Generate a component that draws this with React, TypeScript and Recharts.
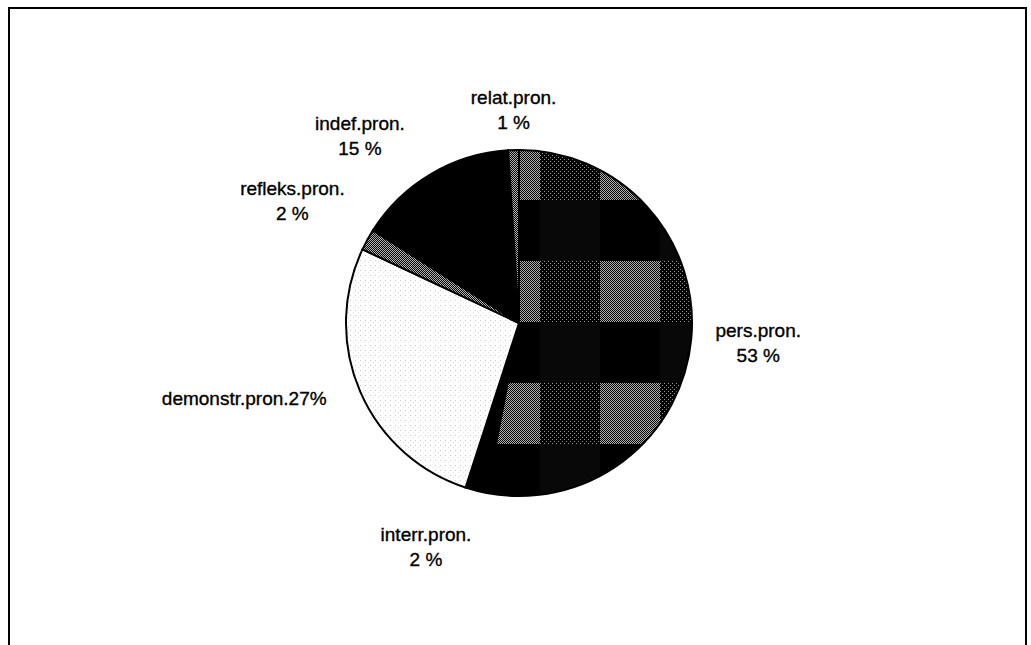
import { Cell, Pie, PieChart } from 'recharts'

const NAMES = ['pers.pron.', 'interr.pron.', 'demonstr.pron.', 'refleks.pron.', 'indef.pron.', 'relat.pron.']
const SHARES = [53, 2, 27, 2, 15, 1]
const FILLS = ['url(#plaid)', '#000', 'url(#dots)', 'url(#dither)', '#000', 'url(#dither)']

const data = NAMES.map((name, i) => ({ name, value: SHARES[i] }))

// where each label sits, relative to the outer edge at the slice's mid angle
const LABEL_SPOT: Record<string, { dx: number; dy: number; inline?: boolean }> = {
  'pers.pron.': { dx: 67, dy: -2 },
  'interr.pron.': { dx: -50, dy: 50 },
  'demonstr.pron.': { dx: -116, dy: 13, inline: true },
  'refleks.pron.': { dx: -75, dy: -45 },
  'indef.pron.': { dx: -71, dy: -44 },
  'relat.pron.': { dx: 0, dy: -46 },
}

const RAD = Math.PI / 180

function PieLabel(props: any) {
  const { cx, cy, midAngle, outerRadius, name, value } = props
  const spot = LABEL_SPOT[name]
  if (!spot) return null
  const x = cx + outerRadius * Math.cos(-midAngle * RAD) + spot.dx
  const y = cy + outerRadius * Math.sin(-midAngle * RAD) + spot.dy
  const lines = spot.inline ? [`${name}${value}%`] : [name, `${value} %`]
  return (
    <text
      x={x}
      y={y}
      textAnchor="middle"
      fill="#000"
      stroke="#000"
      strokeWidth={0.35}
      fontSize={19}
      fontFamily="'Liberation Sans', Arial, sans-serif"
    >
      {lines.map((l, i) => (
        <tspan key={i} x={x} dy={i === 0 ? 0 : 25}>
          {l}
        </tspan>
      ))}
    </text>
  )
}

export default function App() {
  return (
    <div style={{ position: 'absolute', left: 0, top: 0, width: 1031, height: 645, background: '#fff', overflow: 'hidden' }}>
      <div
        style={{
          position: 'absolute',
          left: 8,
          top: 7,
          width: 1019,
          height: 660,
          boxSizing: 'border-box',
          border: '2px solid #000',
        }}
      />
      <div style={{ position: 'absolute', left: 0, top: 0 }}>
        <PieChart width={1031} height={645} margin={{ top: 0, right: 0, bottom: 0, left: 0 }}>
          <defs>
            <pattern id="dither" width={2} height={2} patternUnits="userSpaceOnUse">
              <rect width={2} height={2} fill="#000" />
              <rect x={0} y={0} width={1} height={1} fill="#b4b4b4" />
              <rect x={1} y={1} width={1} height={1} fill="#b4b4b4" />
            </pattern>
            <pattern id="speckle" width={4} height={4} patternUnits="userSpaceOnUse">
              <rect width={4} height={4} fill="#000" />
              <rect x={0} y={0} width={1} height={1} fill="#999" />
              <rect x={2} y={2} width={1} height={1} fill="#999" />
            </pattern>
            <pattern id="dots" width={5} height={5} patternUnits="userSpaceOnUse">
              <rect width={5} height={5} fill="#fff" />
              <rect x={0} y={0} width={1} height={1} fill="#c8c8c8" />
              <rect x={3} y={2} width={1} height={1} fill="#e2e2e2" />
            </pattern>
            <pattern id="plaid" x={480} y={139} width={120} height={122} patternUnits="userSpaceOnUse">
              <rect width={120} height={122} fill="#000" />
              <rect x={0} y={0} width={60} height={61} fill="url(#dither)" />
              <rect x={60} y={0} width={60} height={61} fill="url(#speckle)" />
              <rect x={60} y={61} width={60} height={61} fill="#080808" />
            </pattern>
          </defs>
          <Pie
            data={data}
            dataKey="value"
            nameKey="name"
            cx={519}
            cy={323}
            outerRadius={173}
            startAngle={90}
            endAngle={-270}
            stroke="#000"
            strokeWidth={2}
            label={PieLabel}
            labelLine={false}
            isAnimationActive={false}
          >
            {data.map((d, i) => (
              <Cell key={d.name} fill={FILLS[i]} />
            ))}
          </Pie>
        </PieChart>
      </div>
    </div>
  )
}
